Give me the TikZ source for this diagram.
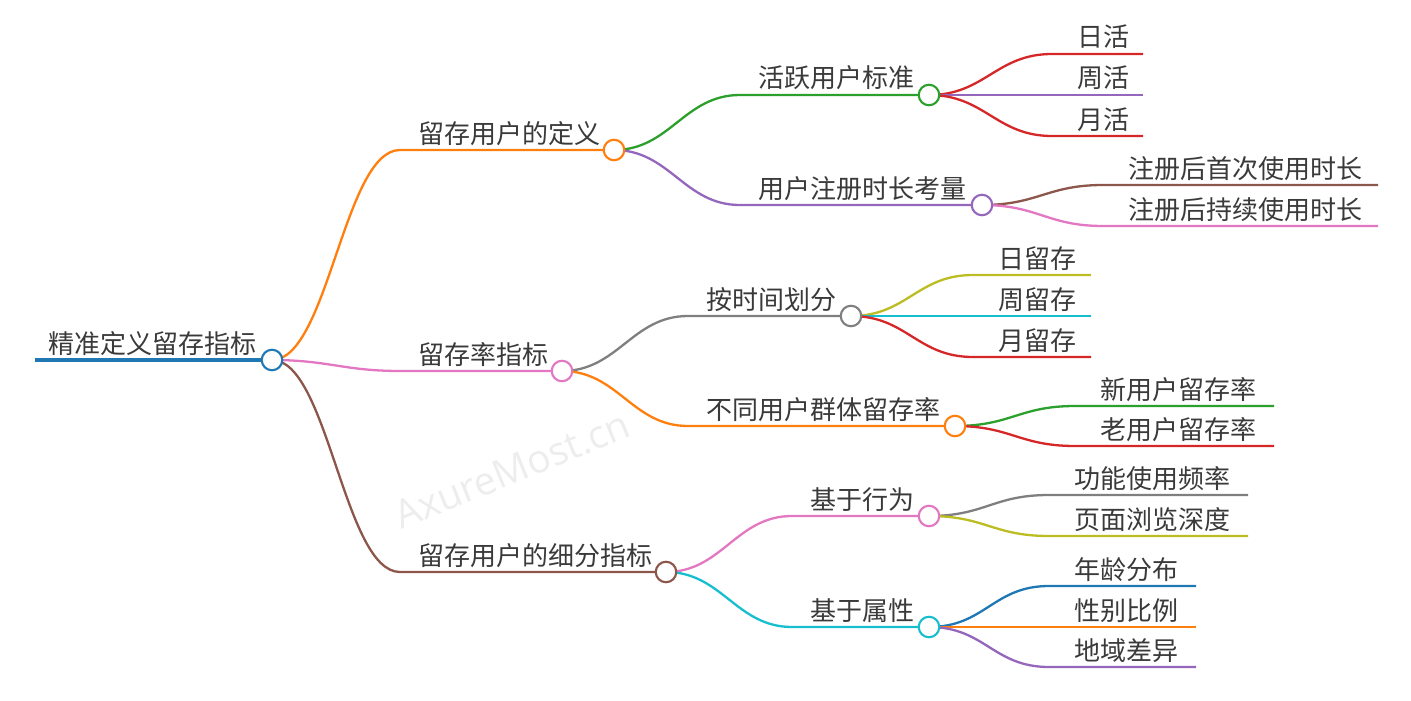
\documentclass[tikz,border=0pt]{standalone}
\usepackage{fontspec}
\setmainfont{Noto Sans CJK SC}
\newfontfamily\wmfont{Open Sans}
\definecolor{cBlue}{HTML}{1F77B4}
\definecolor{cOrange}{HTML}{FF7F0E}
\definecolor{cGreen}{HTML}{2CA02C}
\definecolor{cRed}{HTML}{D62728}
\definecolor{cPurple}{HTML}{9467BD}
\definecolor{cBrown}{HTML}{8C564B}
\definecolor{cPink}{HTML}{E377C2}
\definecolor{cGrey}{HTML}{7F7F7F}
\definecolor{cOlive}{HTML}{BCBD22}
\definecolor{cCyan}{HTML}{17BECF}
\definecolor{txt}{HTML}{3A3A3A}
% #1 colour, #2 from, #3 line start, #4 line end
\newcommand{\mmconn}[4]{\draw[br=#1] (#2) .. controls +(56,0) and +(-56,0) .. (#3) -- (#4);}
\begin{document}
\begin{tikzpicture}[x=1pt,y=-1pt,
  lbl/.style={anchor=base west,inner sep=0pt,text=txt,font=\fontsize{26}{26}\selectfont},
  knot/.style={circle,draw=#1,fill=white,line width=2.1pt,minimum size=20.5pt,inner sep=0pt},
  br/.style={draw=#1,line width=2.3pt},
]
\useasboundingbox (0,0) rectangle (1411,701);
% watermark
\node[rotate=22,text=black!7,font=\wmfont\fontsize{39}{39}\selectfont,inner sep=0pt] (wm) at (512,470) {AxureMost.cn};

% ---------- coordinates ----------
\coordinate (r0) at (35,360);
\coordinate (a0) at (400,150);
\coordinate (b0) at (400,371);
\coordinate (c0) at (400,572);
\coordinate (a10) at (740,95);
\coordinate (a20) at (740,205);
\coordinate (b10) at (688,316);
\coordinate (b20) at (688,426);
\coordinate (c10) at (792,516);
\coordinate (c20) at (792,627);
% leaves: start / end
\coordinate (l1s) at (1052,54);   \coordinate (l1e) at (1143,54);
\coordinate (l2s) at (1052,95);   \coordinate (l2e) at (1143,95);
\coordinate (l3s) at (1052,136);  \coordinate (l3e) at (1143,136);
\coordinate (l4s) at (1103,185);  \coordinate (l4e) at (1378,185);
\coordinate (l5s) at (1103,226);  \coordinate (l5e) at (1378,226);
\coordinate (l6s) at (973,275);   \coordinate (l6e) at (1091,275);
\coordinate (l7s) at (973,316);   \coordinate (l7e) at (1091,316);
\coordinate (l8s) at (973,357);   \coordinate (l8e) at (1091,357);
\coordinate (l9s) at (1075,406);  \coordinate (l9e) at (1274,406);
\coordinate (l10s) at (1075,446); \coordinate (l10e) at (1274,446);
\coordinate (l11s) at (1049,495); \coordinate (l11e) at (1248,495);
\coordinate (l12s) at (1049,536); \coordinate (l12e) at (1248,536);
\coordinate (l13s) at (1049,586); \coordinate (l13e) at (1196,586);
\coordinate (l14s) at (1049,627); \coordinate (l14e) at (1196,627);
\coordinate (l15s) at (1049,667); \coordinate (l15e) at (1196,667);

% ---------- circles (positions) ----------
\path
  (272,360) coordinate (rc)
  (614,150) coordinate (ac)
  (562,371) coordinate (bc)
  (666,572) coordinate (cc)
  (929,95)  coordinate (a1c)
  (982,205) coordinate (a2c)
  (851,316) coordinate (b1c)
  (955,426) coordinate (b2c)
  (929,516) coordinate (c1c)
  (929,627) coordinate (c2c);

% ---------- connectors ----------
\draw[br=cBlue,line width=3.3pt] (r0) -- (rc);
\mmconn{cOrange}{rc}{a0}{ac}
\mmconn{cPink}{rc}{b0}{bc}
\mmconn{cBrown}{rc}{c0}{cc}
\mmconn{cGreen}{ac}{a10}{a1c}
\mmconn{cPurple}{ac}{a20}{a2c}
\mmconn{cGrey}{bc}{b10}{b1c}
\mmconn{cOrange}{bc}{b20}{b2c}
\mmconn{cPink}{cc}{c10}{c1c}
\mmconn{cCyan}{cc}{c20}{c2c}
\mmconn{cRed}{a1c}{l1s}{l1e}
\mmconn{cPurple}{a1c}{l2s}{l2e}
\mmconn{cRed}{a1c}{l3s}{l3e}
\mmconn{cBrown}{a2c}{l4s}{l4e}
\mmconn{cPink}{a2c}{l5s}{l5e}
\mmconn{cOlive}{b1c}{l6s}{l6e}
\mmconn{cCyan}{b1c}{l7s}{l7e}
\mmconn{cRed}{b1c}{l8s}{l8e}
\mmconn{cGreen}{b2c}{l9s}{l9e}
\mmconn{cRed}{b2c}{l10s}{l10e}
\mmconn{cGrey}{c1c}{l11s}{l11e}
\mmconn{cOlive}{c1c}{l12s}{l12e}
\mmconn{cBlue}{c2c}{l13s}{l13e}
\mmconn{cOrange}{c2c}{l14s}{l14e}
\mmconn{cPurple}{c2c}{l15s}{l15e}

% ---------- circle nodes ----------
\node[knot=cBlue]   (r)  at (rc)  {};
\node[knot=cOrange] (a)  at (ac)  {};
\node[knot=cPink]   (b)  at (bc)  {};
\node[knot=cBrown]  (c)  at (cc)  {};
\node[knot=cGreen]  (a1) at (a1c) {};
\node[knot=cPurple] (a2) at (a2c) {};
\node[knot=cGrey]   (b1) at (b1c) {};
\node[knot=cOrange] (b2) at (b2c) {};
\node[knot=cPink]   (c1) at (c1c) {};
\node[knot=cCyan]   (c2) at (c2c) {};

% ---------- labels ----------
\node[lbl] (rt)  at ([shift={(13,-7)}]r0)  {精准定义留存指标};
\node[lbl] (at)  at ([shift={(18,-7)}]a0)  {留存用户的定义};
\node[lbl] (bt)  at ([shift={(18,-7)}]b0)  {留存率指标};
\node[lbl] (ct)  at ([shift={(18,-7)}]c0)  {留存用户的细分指标};
\node[lbl] (a1t) at ([shift={(18,-7)}]a10) {活跃用户标准};
\node[lbl] (a2t) at ([shift={(18,-7)}]a20) {用户注册时长考量};
\node[lbl] (b1t) at ([shift={(18,-7)}]b10) {按时间划分};
\node[lbl] (b2t) at ([shift={(18,-7)}]b20) {不同用户群体留存率};
\node[lbl] (c1t) at ([shift={(18,-7)}]c10) {基于行为};
\node[lbl] (c2t) at ([shift={(18,-7)}]c20) {基于属性};
\node[lbl] (l1t)  at ([shift={(25,-7)}]l1s)  {日活};
\node[lbl] (l2t)  at ([shift={(25,-7)}]l2s)  {周活};
\node[lbl] (l3t)  at ([shift={(25,-7)}]l3s)  {月活};
\node[lbl] (l4t)  at ([shift={(25,-7)}]l4s)  {注册后首次使用时长};
\node[lbl] (l5t)  at ([shift={(25,-7)}]l5s)  {注册后持续使用时长};
\node[lbl] (l6t)  at ([shift={(25,-7)}]l6s)  {日留存};
\node[lbl] (l7t)  at ([shift={(25,-7)}]l7s)  {周留存};
\node[lbl] (l8t)  at ([shift={(25,-7)}]l8s)  {月留存};
\node[lbl] (l9t)  at ([shift={(25,-7)}]l9s)  {新用户留存率};
\node[lbl] (l10t) at ([shift={(25,-7)}]l10s) {老用户留存率};
\node[lbl] (l11t) at ([shift={(25,-7)}]l11s) {功能使用频率};
\node[lbl] (l12t) at ([shift={(25,-7)}]l12s) {页面浏览深度};
\node[lbl] (l13t) at ([shift={(25,-7)}]l13s) {年龄分布};
\node[lbl] (l14t) at ([shift={(25,-7)}]l14s) {性别比例};
\node[lbl] (l15t) at ([shift={(25,-7)}]l15s) {地域差异};
\end{tikzpicture}
\end{document}
